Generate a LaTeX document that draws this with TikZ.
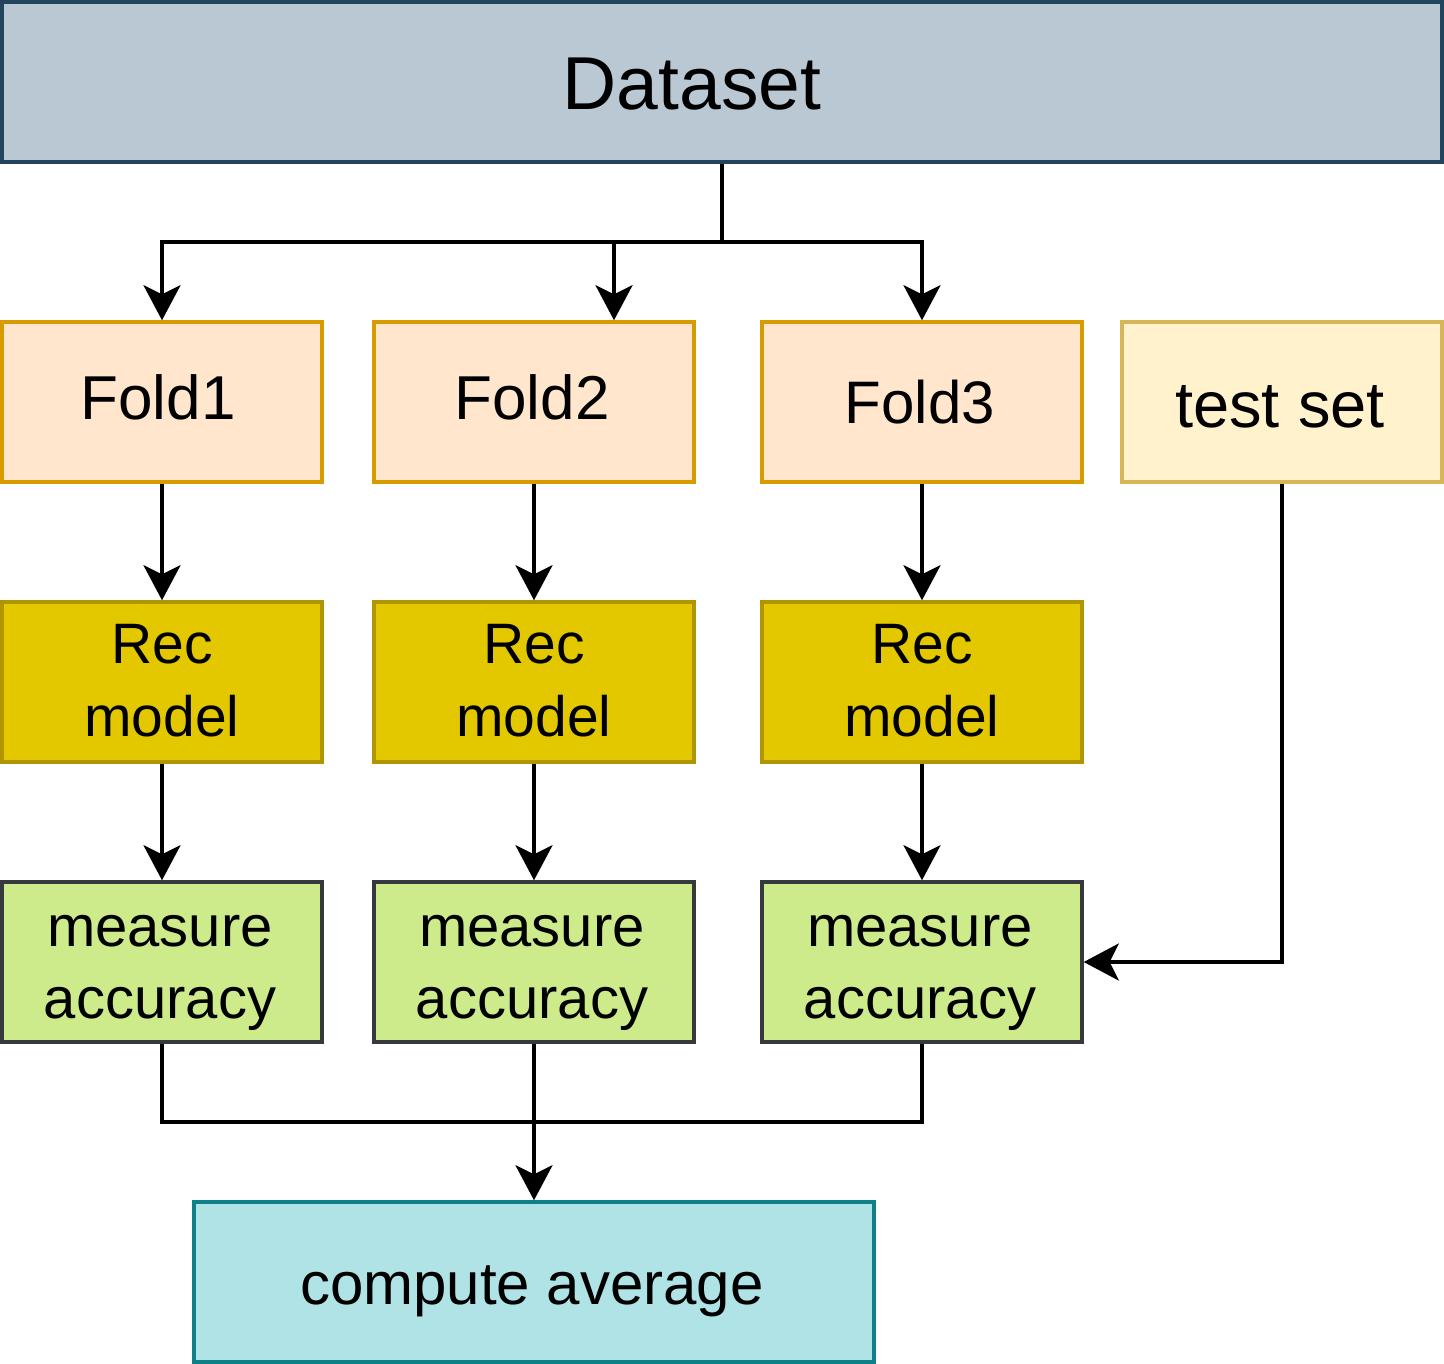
\documentclass[tikz,border=0pt]{standalone}
\usepackage{fontspec}
\setmainfont{Liberation Sans}
\usetikzlibrary{arrows.meta}
\definecolor{dsfill}{HTML}{BAC8D3}\definecolor{dsdraw}{HTML}{23445D}
\definecolor{fofill}{HTML}{FFE6CC}\definecolor{fodraw}{HTML}{D79B00}
\definecolor{tsfill}{HTML}{FFF2CC}\definecolor{tsdraw}{HTML}{D6B656}
\definecolor{rmfill}{HTML}{E3C800}\definecolor{rmdraw}{HTML}{B09500}
\definecolor{mafill}{HTML}{CDEB8B}\definecolor{madraw}{HTML}{36393D}
\definecolor{cafill}{HTML}{B0E3E6}\definecolor{cadraw}{HTML}{0E8088}
\tikzset{
  box/.style={draw, line width=3.5pt, minimum width=320pt, minimum height=160pt, inner sep=0pt, align=center},
  txt/.style={inner sep=0pt, align=center},
  dsbox/.style={box, fill=dsfill, draw=dsdraw, minimum width=1440pt},
  fobox/.style={box, fill=fofill, draw=fodraw},
  tsbox/.style={box, fill=tsfill, draw=tsdraw},
  rmbox/.style={box, fill=rmfill, draw=rmdraw},
  mabox/.style={box, fill=mafill, draw=madraw},
  cabox/.style={box, fill=cafill, draw=cadraw, minimum width=680pt},
  arr/.style={line width=3.5pt, -{Stealth[length=35pt,width=37pt,inset=9pt]}},
  ln/.style={line width=3.5pt}
}
\begin{document}
\begin{tikzpicture}[x=1pt,y=-1pt]
\useasboundingbox (0,0) rectangle (1444,1364);
\node[dsbox, label={[txt,font=\fontsize{75}{90}\selectfont,xshift=-30pt,yshift=-2pt]center:Dataset}] (ds) at (722,82) {};
\node[fobox, label={[txt,font=\fontsize{62}{76}\selectfont,xshift=-4pt,yshift=5pt]center:Fold1}] (f1) at (162,402) {};
\node[fobox, label={[txt,font=\fontsize{62}{76}\selectfont,xshift=-2pt,yshift=5pt]center:Fold2}] (f2) at (534,402) {};
\node[fobox, label={[txt,font=\fontsize{60}{72}\selectfont,xshift=-2pt,yshift=0pt]center:Fold3}] (f3) at (922,402) {};
\node[tsbox, label={[txt,font=\fontsize{65}{78}\selectfont,xshift=-2pt,yshift=-5pt]center:test set}] (ts) at (1282,402) {};
\node[rmbox, label={[txt,font=\fontsize{57}{73}\selectfont,yshift=1pt]center:Rec\\model}] (r1) at (162,682) {};
\node[rmbox, label={[txt,font=\fontsize{57}{73}\selectfont,yshift=1pt]center:Rec\\model}] (r2) at (534,682) {};
\node[rmbox, label={[txt,font=\fontsize{57}{73}\selectfont,yshift=1pt]center:Rec\\model}] (r3) at (922,682) {};
\node[mabox, label={[txt,font=\fontsize{58}{72}\selectfont,xshift=-2pt,yshift=-11pt]center:measure\\accuracy}] (m1) at (162,962) {};
\node[mabox, label={[txt,font=\fontsize{58}{72}\selectfont,xshift=-2pt,yshift=-11pt]center:measure\\accuracy}] (m2) at (534,962) {};
\node[mabox, label={[txt,font=\fontsize{58}{72}\selectfont,xshift=-2pt,yshift=-11pt]center:measure\\accuracy}] (m3) at (922,962) {};
\node[cabox, label={[txt,font=\fontsize{60}{72}\selectfont,xshift=-2pt,yshift=-9pt]center:compute average}] (ca) at (534,1282) {};
\coordinate (j) at (722,242);
\coordinate (jb) at (534,1122);
\draw[ln] (ds.south) -- (j);
\draw[arr] (j) -| (f1.north);
\draw[arr] (j) -| ([xshift=80pt]f2.north);
\draw[arr] (j) -| (f3.north);
\draw[arr] (f1) -- (r1);
\draw[arr] (f2) -- (r2);
\draw[arr] (f3) -- (r3);
\draw[arr] (r1) -- (m1);
\draw[arr] (r2) -- (m2);
\draw[arr] (r3) -- (m3);
\draw[arr] (ts.south) |- (m3.east);
\draw[ln] (m1.south) |- (jb);
\draw[ln] (m3.south) |- (jb);
\draw[arr] (m2.south) -- (ca.north);
\end{tikzpicture}
\end{document}
